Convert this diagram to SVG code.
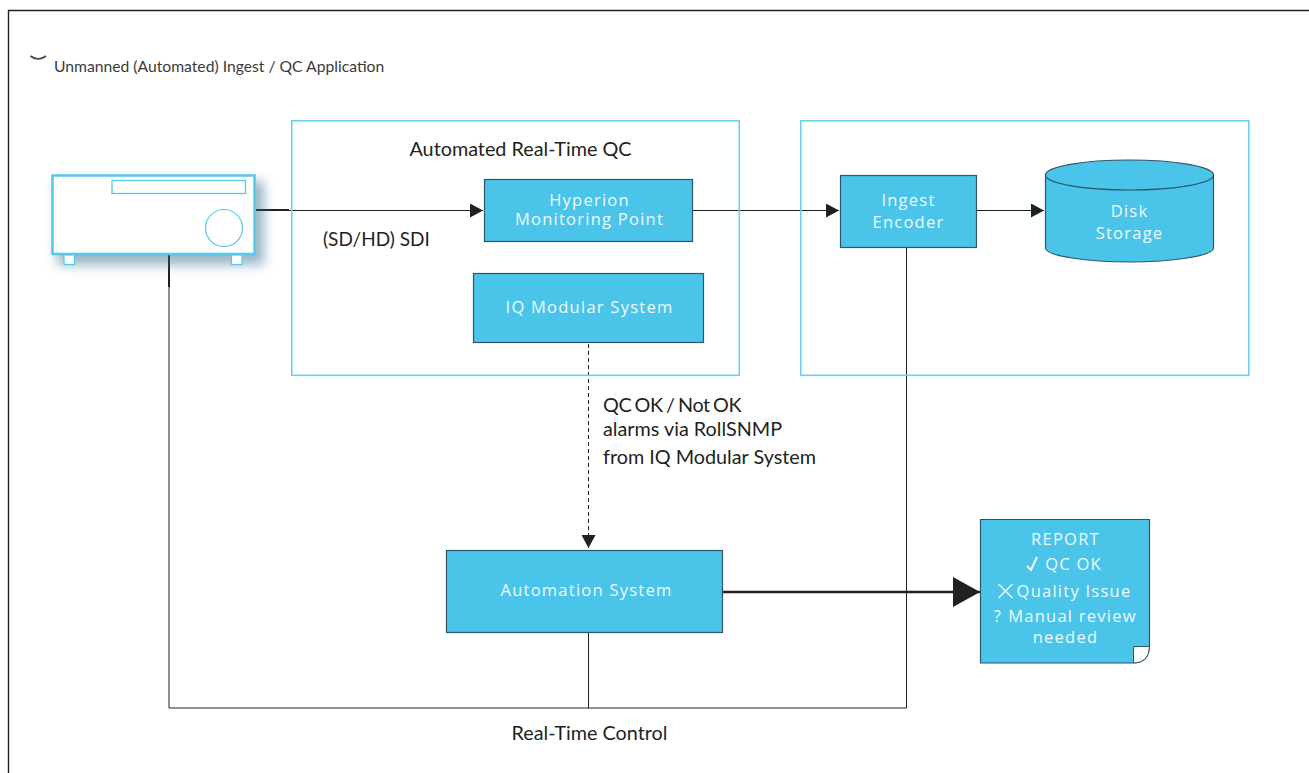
<svg xmlns="http://www.w3.org/2000/svg" width="1309" height="773" viewBox="0 0 1309 773">
<style>
.b{fill:#4bc4ea;stroke:#2f5566;stroke-width:1.2}
.g{fill:none;stroke:#6fd0ee;stroke-width:1.6}
.w{font-family:"Open Sans","Liberation Sans",sans-serif;font-size:16.500px;fill:#eefaff;text-anchor:middle;letter-spacing:1.250px}
.t{font-family:"Lato","Open Sans",sans-serif;font-size:19.800px;fill:#231f20}
.c{fill:none;stroke:#231f20;stroke-width:1}
.h2{stroke-width:2}
.h3{stroke-width:2.400}
</style>
<defs>
<filter id="sh" x="-20%" y="-40%" width="140%" height="180%"><feGaussianBlur stdDeviation="6"/></filter>
<marker id="a" markerUnits="userSpaceOnUse" markerWidth="14" markerHeight="14" refX="13" refY="7" orient="auto"><path d="M0 0L13 7L0 14Z" fill="#231f20"/></marker>
<marker id="al" markerUnits="userSpaceOnUse" markerWidth="27" markerHeight="30" refX="27" refY="15" orient="auto"><path d="M0 0L27 15L0 30Z" fill="#231f20"/></marker>
</defs>
<rect width="1309" height="773" fill="#fff"/>
<path d="M1309 10.500H8.500V773" fill="none" stroke="#231f20" stroke-width="1.400"/>
<path d="M30.500 56Q38 62 46 56" fill="none" stroke="#444" stroke-width="1.700"/>
<text x="54" y="72" font-family="Lato,'Open Sans',sans-serif" font-size="15.700" fill="#3a3a3c">Unmanned (Automated) Ingest / QC Application</text>
<g id="connectors">
<path class="c h2" d="M256 210H289"/>
<path class="c" d="M289 210.500H483" marker-end="url(#a)"/>
<path class="c" d="M693 210.500H839" marker-end="url(#a)"/>
<path class="c" d="M977 210.500H1044" marker-end="url(#a)"/>
<path class="c" d="M588.500 344V548" stroke-dasharray="4 3" marker-end="url(#a)"/>
<path class="c h3" d="M723 592H980" marker-end="url(#al)"/>
<path class="c h2" d="M169 255V287"/>
<path class="c" d="M169 287V708H906.500V248"/>
<path class="c" d="M588.500 633V708"/>
</g>
<g id="group-qc"><rect class="g" x="291.800" y="120.800" width="447.500" height="254.500"/>
<text class="t" x="520.500" y="156" text-anchor="middle">Automated Real-Time QC</text></g>
<g id="group-ingest"><rect class="g" x="800.800" y="120.800" width="448" height="254.500"/></g>
<g id="source">
<rect x="57" y="181" width="207" height="84" fill="#2f6f90" opacity="0.500" filter="url(#sh)"/>
<rect x="52.500" y="175.500" width="202" height="78.500" fill="#fff" stroke="#55c8ec" stroke-width="2.500"/>
<rect x="112" y="180.500" width="133.500" height="13" fill="none" stroke="#55c8ec" stroke-width="1.300"/>
<circle cx="224" cy="228" r="18.500" fill="none" stroke="#55c8ec" stroke-width="1.200"/>
<rect x="64" y="255" width="10.500" height="9.500" fill="#fff" stroke="#55c8ec" stroke-width="1.200"/>
<rect x="231.500" y="255" width="10.500" height="9.500" fill="#fff" stroke="#55c8ec" stroke-width="1.200"/>
</g>
<g id="hyperion"><rect class="b" x="484.500" y="179.500" width="208" height="62"/>
<text class="w" x="589.500" y="206">Hyperion</text><text class="w" x="589.500" y="225">Monitoring Point</text></g>
<g id="iq"><rect class="b" x="473.500" y="273.500" width="230" height="69"/>
<text class="w" x="589.500" y="313">IQ Modular System</text></g>
<g id="encoder"><rect class="b" x="840.500" y="175.500" width="136" height="72"/>
<text class="w" x="908.500" y="206">Ingest</text><text class="w" x="908.500" y="228">Encoder</text></g>
<g id="disk">
<path class="b" d="M1045.500 175V248C1045.500 256 1088 262 1129.500 262S1213.500 256 1213.500 248V175Z"/>
<ellipse class="b" cx="1129.500" cy="175" rx="84" ry="15"/>
<text class="w" x="1129.500" y="217">Disk</text><text class="w" x="1129.500" y="239">Storage</text></g>
<g id="automation"><rect class="b" x="446.500" y="550.500" width="276" height="82"/>
<text class="w" x="586.500" y="596">Automation System</text></g>
<g id="report">
<path class="b" d="M980.500 519.500H1149.500V646Q1149 663 1133 663H980.500Z"/>
<path d="M1133.500 646.500H1149.500Q1149 663 1133.500 663Z" fill="#fff" stroke="#2f5566"/>
<text class="w" x="1065.500" y="545">REPORT</text>
<text class="w" x="1073.500" y="570">QC OK</text>
<path d="M1027 566L1031 570L1037 557" fill="none" stroke="#eefaff" stroke-width="2"/>
<text class="w" x="1074" y="597">Quality Issue</text>
<path d="M998.500 584L1012.500 598M1012.500 584L998.500 598" fill="none" stroke="#eefaff" stroke-width="1.500"/>
<text class="w" x="998" y="622">?</text>
<text class="w" x="1072.500" y="622">Manual review</text>
<text class="w" x="1065.500" y="643">needed</text>
</g>
<text class="t" x="323" y="246" style="font-size:19px">(SD/HD) SDI</text>
<text class="t" x="603" y="412" style="word-spacing:-1.300px;letter-spacing:-.4px">QC OK / Not OK</text>
<text class="t" x="603" y="436">alarms via RollSNMP</text>
<text class="t" x="603" y="464">from IQ Modular System</text>
<text class="t" x="589.500" y="740" text-anchor="middle">Real-Time Control</text>
</svg>
